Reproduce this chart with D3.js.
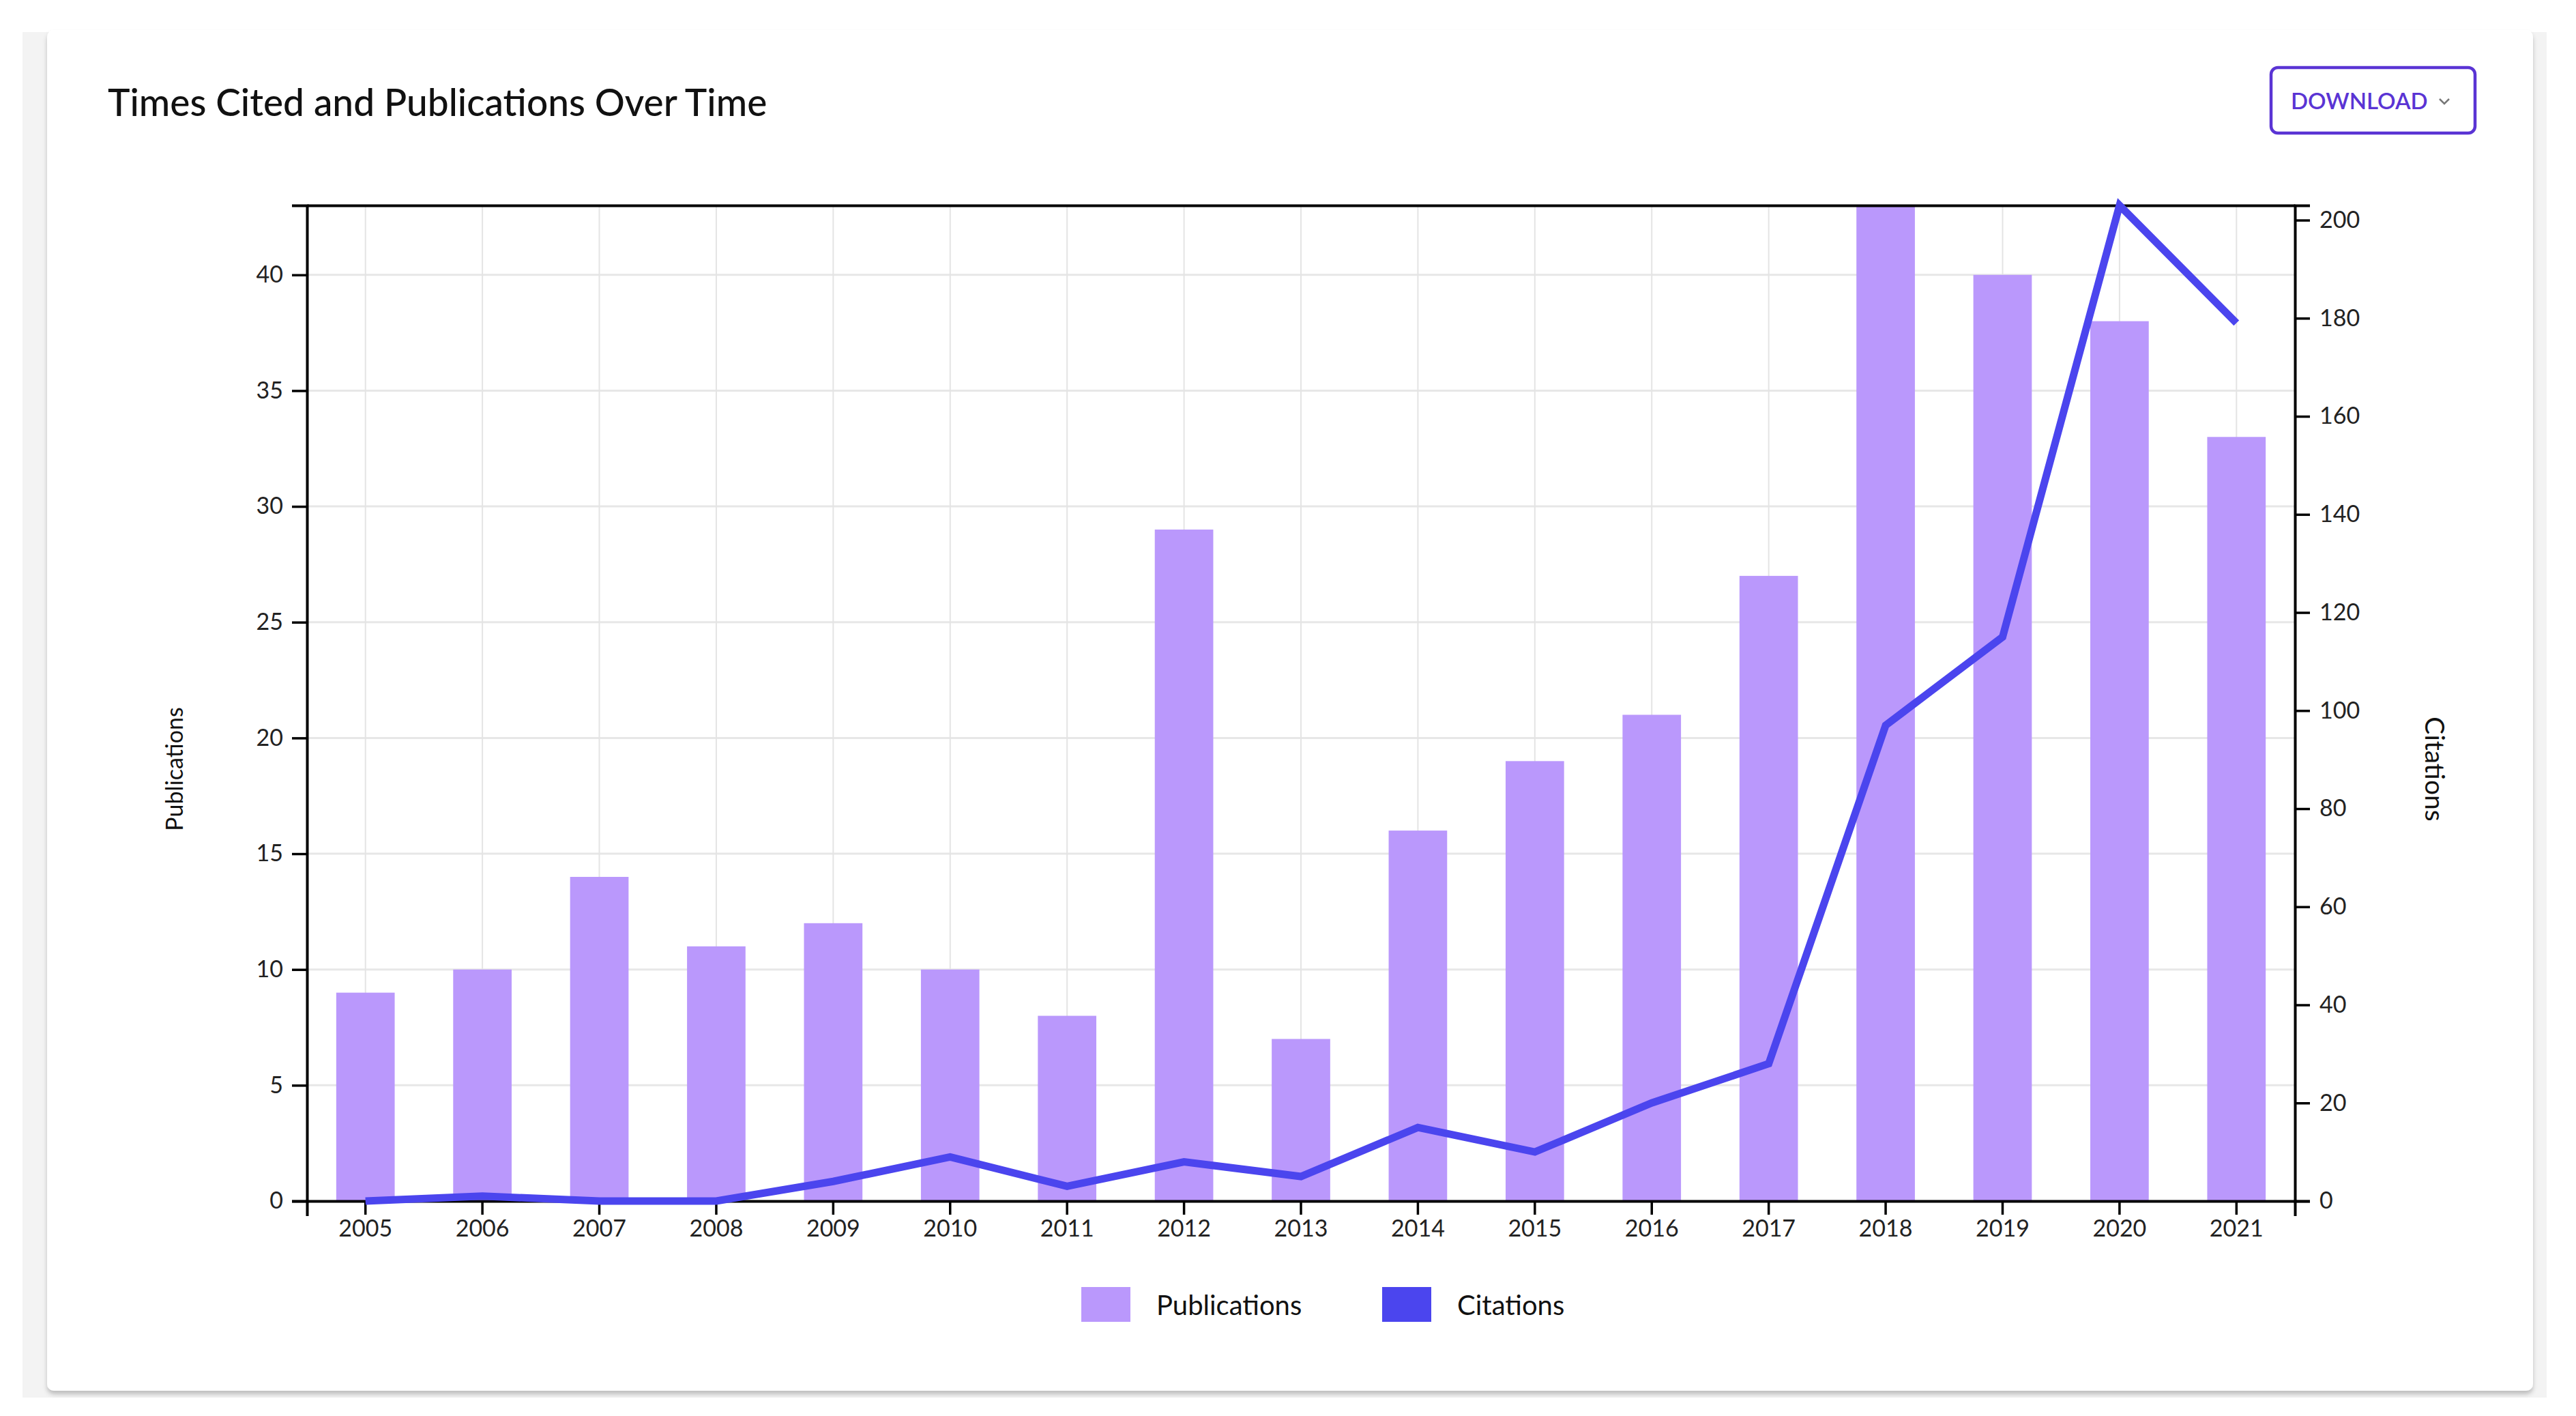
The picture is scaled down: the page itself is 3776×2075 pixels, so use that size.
<!DOCTYPE html>
<html>
<head>
<meta charset="utf-8">
<script src="https://cdn.jsdelivr.net/npm/d3@7"></script>
<style>
  html, body { margin: 0; padding: 0; background: #ffffff; }
  svg { display: block; font-family: Lato, "Open Sans", sans-serif; }
</style>
</head>
<body>
<svg id="chart" width="3776" height="2075"></svg>
<script>
const years = ["2005","2006","2007","2008","2009","2010","2011","2012","2013","2014","2015","2016","2017","2018","2019","2020","2021"];
const publications = [9,10,14,11,12,10,8,29,7,16,19,21,27,43,40,38,33];
const citations = [0,1,0,0,4,9,3,8,5,15,10,20,28,97,115,203,179];
const seriesNames = ["Publications","Citations"];
const titleText = "Times Cited and Publications Over Time";

const colors = { bar: "#ba98fc", line: "#4b45ee", accent: "#5a34d4" };

const svg = d3.select("#chart");
const W = 3776, H = 2075;
const m = { left: 450, right: 3364, top: 301, bottom: 1760 };

// drop shadow for the card
const defs = svg.append("defs");
const f = defs.append("filter").attr("id","shadow").attr("x","-2%").attr("y","-2%").attr("width","104%").attr("height","106%");
f.append("feDropShadow").attr("dx",0).attr("dy",5).attr("stdDeviation",3).attr("flood-color","#000").attr("flood-opacity",0.22);

svg.append("rect").attr("width",W).attr("height",H).attr("fill","#fff");
svg.append("rect").attr("x",33).attr("y",47).attr("width",3700).attr("height",2001).attr("fill","#f3f3f3");
svg.append("rect").attr("x",69).attr("y",44).attr("width",3644).attr("height",1994).attr("rx",10)
  .attr("fill","#fff").attr("filter","url(#shadow)");

// title
svg.append("text").attr("x",158).attr("y",170).attr("font-size",55).attr("font-weight",500)
  .attr("fill","#111").text(titleText);

// download button
const btn = svg.append("g");
btn.append("rect").attr("x",3329).attr("y",99).attr("width",299).attr("height",96).attr("rx",10)
  .attr("fill","#fff").attr("stroke",colors.accent).attr("stroke-width",4.5);
btn.append("text").attr("x",3358).attr("y",160).attr("font-size",33).attr("font-weight",600)
  .attr("fill",colors.accent).text("DOWNLOAD");
btn.append("path").attr("d","M3576,145 L3583,152 L3590,145").attr("fill","none")
  .attr("stroke","#777").attr("stroke-width",2.5);

// scales
const x = d3.scaleBand().domain(years).range([m.left, m.right]).paddingInner(0.5).paddingOuter(0.25);
const yL = d3.scaleLinear().domain([0, d3.max(publications)]).range([m.bottom, m.top]);
const yR = d3.scaleLinear().domain([0, d3.max(citations)]).range([m.bottom, m.top]);
const cx = d => x(d) + x.bandwidth()/2;

// grid
const grid = svg.append("g");
grid.selectAll("line.h").data(yL.ticks(10)).join("line").attr("class","h")
  .attr("x1",m.left).attr("x2",m.right).attr("y1",d=>yL(d)).attr("y2",d=>yL(d))
  .attr("stroke","#e7e7e7").attr("stroke-width",3);
grid.selectAll("line.v").data(years).join("line").attr("class","v")
  .attr("x1",cx).attr("x2",cx).attr("y1",m.top).attr("y2",m.bottom)
  .attr("stroke","#e4e4e4").attr("stroke-width",2);

// bars
svg.append("g").selectAll("rect").data(years).join("rect")
  .attr("x",d=>x(d)).attr("width",x.bandwidth())
  .attr("y",(d,i)=>yL(publications[i])).attr("height",(d,i)=>yL(0)-yL(publications[i]))
  .attr("fill",colors.bar);

// axes
const tickFont = g => g.selectAll("text").attr("font-size",34).attr("fill","#222").attr("font-family","Lato, sans-serif");
const axisStyle = g => { g.select(".domain").attr("stroke","#000").attr("stroke-width",4);
  g.selectAll(".tick line").attr("stroke","#000").attr("stroke-width",3.5); };

svg.append("g").attr("transform",`translate(0,${m.top})`)
  .call(d3.axisTop(x).tickValues([]).tickSizeOuter(0)).call(axisStyle);

svg.append("g").attr("transform",`translate(${m.left},0)`)
  .call(d3.axisLeft(yL).ticks(10).tickSize(22).tickPadding(13)).call(axisStyle).call(tickFont);

svg.append("g").attr("transform",`translate(${m.right},0)`)
  .call(d3.axisRight(yR).ticks(10).tickSize(22).tickPadding(14)).call(axisStyle).call(tickFont);

svg.append("g").attr("transform",`translate(0,${m.bottom})`)
  .call(d3.axisBottom(x).tickSize(20).tickSizeOuter(22).tickPadding(8)).call(axisStyle).call(tickFont);

// line
const line = d3.line().x((d,i)=>cx(years[i])).y(d=>yR(d));
svg.append("path").datum(citations).attr("d",line).attr("fill","none")
  .attr("stroke",colors.line).attr("stroke-width",11).attr("stroke-linejoin","miter");

// axis titles
svg.append("text").attr("transform","translate(268,1127) rotate(-90)").attr("text-anchor","middle")
  .attr("font-size",34).attr("fill","#111").text(seriesNames[0]);
svg.append("text").attr("transform","translate(3555,1127) rotate(90)").attr("text-anchor","middle")
  .attr("font-size",39).attr("fill","#111").text(seriesNames[1]);

// legend
const leg = svg.append("g");
const legItems = [
  { name: seriesNames[0], color: colors.bar, sx: 1585, tx: 1695 },
  { name: seriesNames[1], color: colors.line, sx: 2026, tx: 2136 }
];
legItems.forEach(it => {
  leg.append("rect").attr("x",it.sx).attr("y",1886).attr("width",72).attr("height",51).attr("fill",it.color);
  leg.append("text").attr("x",it.tx).attr("y",1927).attr("font-size",40).attr("fill","#111").text(it.name);
});
</script>
</body>
</html>
